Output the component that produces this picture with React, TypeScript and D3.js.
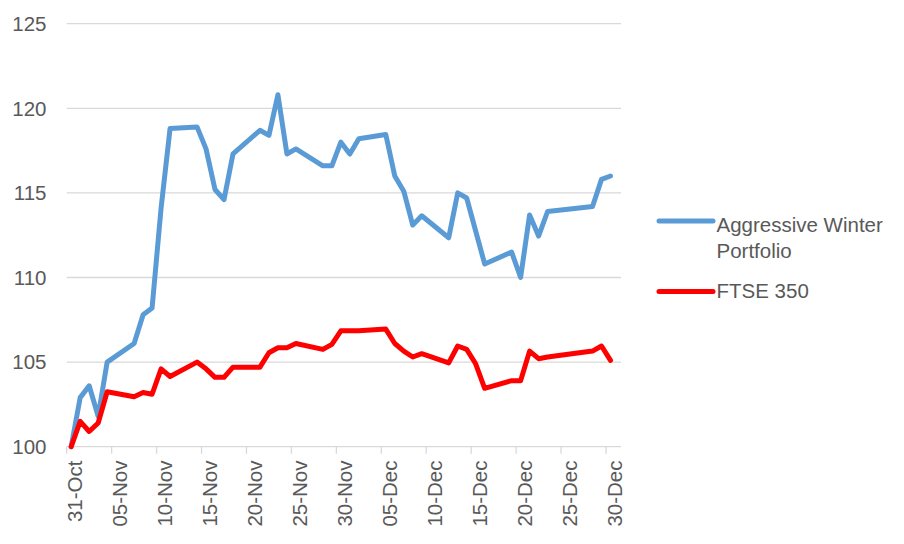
import React from "react";
import * as d3 from "d3";

const dates = [
  "2016-10-31", "2016-11-01", "2016-11-02", "2016-11-03", "2016-11-04",
  "2016-11-07", "2016-11-08", "2016-11-09", "2016-11-10", "2016-11-11",
  "2016-11-14", "2016-11-15", "2016-11-16", "2016-11-17", "2016-11-18",
  "2016-11-21", "2016-11-22", "2016-11-23", "2016-11-24", "2016-11-25",
  "2016-11-28", "2016-11-29", "2016-11-30", "2016-12-01", "2016-12-02",
  "2016-12-05", "2016-12-06", "2016-12-07", "2016-12-08", "2016-12-09",
  "2016-12-12", "2016-12-13", "2016-12-14", "2016-12-15", "2016-12-16",
  "2016-12-19", "2016-12-20", "2016-12-21", "2016-12-22", "2016-12-23",
  "2016-12-28", "2016-12-29", "2016-12-30",
];

const aggressive = [
  100.0, 102.9, 103.6, 101.8, 105.0,
  106.1, 107.8, 108.2, 114.1, 118.8,
  118.9, 117.6, 115.2, 114.6, 117.3,
  118.7, 118.4, 120.8, 117.3, 117.6,
  116.6, 116.6, 118.0, 117.3, 118.2,
  118.45, 116.0, 115.1, 113.1, 113.65,
  112.35, 115.0, 114.7, 112.75, 110.8,
  111.5, 110.0, 113.7, 112.45, 113.9,
  114.2, 115.8, 116.0,
];

const ftse = [
  100.0, 101.5, 100.9, 101.4, 103.25,
  102.95, 103.2, 103.1, 104.6, 104.15,
  105.0, 104.6, 104.1, 104.1, 104.7,
  104.7, 105.55, 105.85, 105.85, 106.1,
  105.75, 106.05, 106.85, 106.85, 106.85,
  106.95, 106.1, 105.65, 105.3, 105.5,
  104.95, 105.95, 105.75, 104.9, 103.45,
  103.9, 103.9, 105.65, 105.2, 105.3,
  105.65, 105.95, 105.1,
];

const tickDates = [
  "2016-10-31", "2016-11-05", "2016-11-10", "2016-11-15", "2016-11-20",
  "2016-11-25", "2016-11-30", "2016-12-05", "2016-12-10", "2016-12-15",
  "2016-12-20", "2016-12-25", "2016-12-30",
];

const yTicks = [100, 105, 110, 115, 120, 125];

const seriesNames = ["Aggressive Winter Portfolio", "FTSE 350"];
const seriesColors = ["#5B9BD5", "#FF0000"];

const W = 904;
const H = 544;
const FONT = "'Liberation Sans', Arial, sans-serif";
const TEXT = "#595959";
const GRID = "#d9d9d9";

export default function App() {
  const parse = d3.timeParse("%Y-%m-%d");
  const fmt = d3.timeFormat("%d-%b");
  const x = d3
    .scaleTime()
    .domain([parse(tickDates[0])!, parse(tickDates[tickDates.length - 1])!])
    .range([66.7, 606]);
  const y = d3.scaleLinear().domain([100, 125]).range([446.7, 23.7]);
  const plotLeft = 66.7;
  const plotRight = 621;

  const pts = dates.map((d) => d3.timeHour.offset(parse(d)!, 12));
  const line = d3
    .line<number>()
    .x((_, i) => x(pts[i]))
    .y((v) => y(v));

  const series = [aggressive, ftse];

  return (
    <svg
      width={W}
      height={H}
      style={{ position: "absolute", left: 0, top: 0, background: "#fff" }}
      fontFamily={FONT}
    >
      <rect width={W} height={H} fill="#fff" />
      {yTicks.map((t) => (
        <line
          key={"g" + t}
          x1={plotLeft}
          x2={plotRight}
          y1={y(t)}
          y2={y(t)}
          stroke={GRID}
          strokeWidth={1.3}
        />
      ))}
      {yTicks.map((t) => (
        <text
          key={"yl" + t}
          x={46.5}
          y={y(t)}
          dy="0.36em"
          textAnchor="end"
          fontSize={20.5}
          fill={TEXT}
        >
          {t}
        </text>
      ))}
      {tickDates.map((t) => {
        const tx = x(parse(t)!);
        return (
          <g key={"xt" + t}>
            <line x1={tx} x2={tx} y1={y(100)} y2={y(100) + 7} stroke={GRID} strokeWidth={1.3} />
            <text
              transform={`translate(${tx + 15.5},460.5) rotate(-90)`}
              textAnchor="end"
              fontSize={20.5}
              fill={TEXT}
            >
              {fmt(parse(t)!)}
            </text>
          </g>
        );
      })}
      {series.map((s, i) => (
        <path
          key={"s" + i}
          d={line(s) || ""}
          fill="none"
          stroke={seriesColors[i]}
          strokeWidth={5}
          strokeLinejoin="round"
          strokeLinecap="round"
        />
      ))}
      <g>
        <line x1={659} x2={713} y1={221} y2={221} stroke={seriesColors[0]} strokeWidth={5} strokeLinecap="round" />
        <text x={716.5} y={231.7} fontSize={20.5} fill={TEXT}>
          Aggressive Winter
        </text>
        <text x={716.5} y={257.7} fontSize={20.5} fill={TEXT}>
          Portfolio
        </text>
        <line x1={659} x2={713} y1={291.5} y2={291.5} stroke={seriesColors[1]} strokeWidth={5} strokeLinecap="round" />
        <text x={716.5} y={298.3} fontSize={20.5} fill={TEXT}>
          FTSE 350
        </text>
      </g>
    </svg>
  );
}
